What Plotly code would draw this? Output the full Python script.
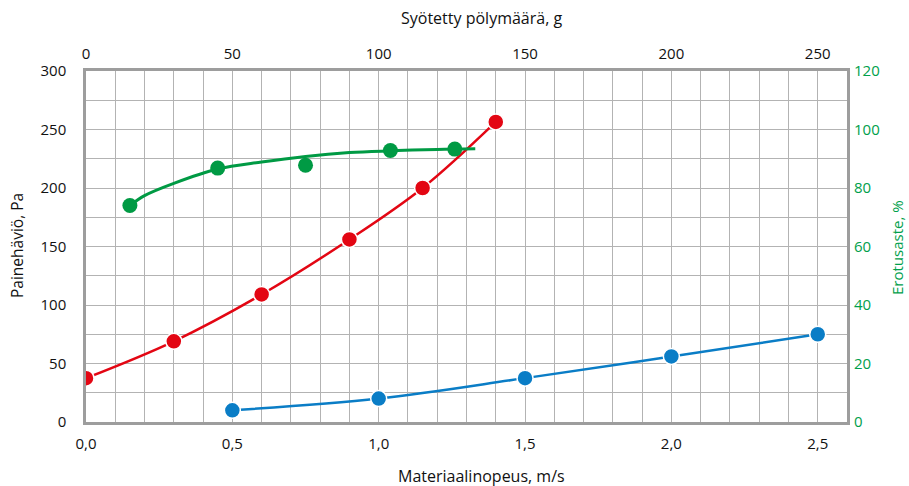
import plotly.graph_objects as go

# Data
red_g = [0, 30, 60, 90, 115, 140]              # Syötetty pölymäärä, g
red_pa = [37.5, 69, 109, 156, 200, 256.5]      # Painehäviö, Pa

green_g = [15, 45, 75, 104, 126]
green_pct = [74.0, 86.8, 87.8, 92.8, 93.3]     # Erotusaste, %

green_trend_g = [15, 20, 30, 45, 60, 75, 90, 104, 120, 133]
green_trend_pct = [74.0, 77.4, 81.6, 86.5, 88.9, 90.8, 92.1, 92.7, 93.2, 93.4]

blue_v = [0.5, 1.0, 1.5, 2.0, 2.5]             # Materiaalinopeus, m/s
blue_pa = [10, 20, 37.5, 56, 75]

RED = "#E30613"
GREEN = "#009A44"
BLUE = "#0A7DC6"
GREEN_TXT = "#00A04B"
FONT = "Open Sans"
TXT = "#111111"

fig = go.Figure()

fig.add_trace(go.Scatter(
    x=green_trend_g, y=green_trend_pct, xaxis="x2", yaxis="y2",
    mode="lines", line=dict(color=GREEN, width=3, shape="spline"),
    showlegend=False, hoverinfo="skip"))
fig.add_trace(go.Scatter(
    x=green_g, y=green_pct, xaxis="x2", yaxis="y2",
    mode="markers", marker=dict(color=GREEN, size=15, line=dict(width=0)),
    showlegend=False))
fig.add_trace(go.Scatter(
    x=red_g, y=red_pa, xaxis="x2", yaxis="y",
    mode="lines+markers", line=dict(color=RED, width=2.5, shape="spline"),
    marker=dict(color=RED, size=16, line=dict(color="white", width=1.5)),
    showlegend=False))
fig.add_trace(go.Scatter(
    x=blue_v, y=blue_pa, xaxis="x", yaxis="y",
    mode="lines+markers", line=dict(color=BLUE, width=2.5, shape="spline"),
    marker=dict(color=BLUE, size=16, line=dict(color="white", width=1.5)),
    showlegend=False))

grid_color = "#b3b3b3"
frame_color = "#9d9d9d"

W_PX, H_PX = 909, 486
pl, pr, pt, pb = 86, 847, 71, 422

fig.update_layout(
    width=W_PX, height=H_PX,
    margin=dict(l=pl, r=W_PX - pr, t=pt, b=H_PX - pb, autoexpand=False),
    paper_bgcolor="white", plot_bgcolor="white",
    separators=", ",
    font=dict(family=FONT, size=15, color=TXT),
    xaxis=dict(
        range=[0, 2.6], dtick=0.5, tickformat=".1f",
        showgrid=True, gridcolor=grid_color, gridwidth=1.3,
        minor=dict(dtick=0.1, showgrid=True, gridcolor=grid_color, gridwidth=1.3),
        zeroline=False, showline=True, linecolor=frame_color, linewidth=2.5,
        mirror=True, ticks="", ticklabelstandoff=6,
        tickfont=dict(family=FONT, size=15, color=TXT)),
    xaxis2=dict(
        range=[0, 260], dtick=50, overlaying="x", side="top",
        showgrid=False, zeroline=False, showline=False, ticks="",
        ticklabelstandoff=8,
        tickfont=dict(family=FONT, size=15, color=TXT)),
    yaxis=dict(
        range=[0, 300], dtick=50,
        showgrid=True, gridcolor=grid_color, gridwidth=1.3,
        minor=dict(dtick=25, showgrid=True, gridcolor=grid_color, gridwidth=1.3),
        zeroline=False, showline=True, linecolor=frame_color, linewidth=2.5,
        mirror=True, ticks="", ticklabelstandoff=14,
        tickfont=dict(family=FONT, size=15, color=TXT)),
    yaxis2=dict(
        range=[0, 120], dtick=20, overlaying="y", side="right",
        showgrid=False, zeroline=False, showline=False, ticks="",
        ticklabelstandoff=6,
        tickfont=dict(family=FONT, size=15, color=GREEN_TXT)),
)

W, H = pr - pl, pb - pt


def px_ann(text, px_x, px_y, color=TXT, angle=0, size=15):
    fig.add_annotation(text=text, textangle=angle, showarrow=False,
                       font=dict(family=FONT, size=size, color=color),
                       xref="paper", yref="paper",
                       x=(px_x - pl) / W, y=(pb - px_y) / H,
                       xanchor="center", yanchor="middle")


px_ann("Syötetty pölymäärä, g", 481, 18, size=16)
px_ann("Materiaalinopeus, m/s", 481, 476, size=16)
px_ann("Painehäviö, Pa", 17, 246, angle=-90, size=15.5)
px_ann("Erotusaste, %", 897, 248, color=GREEN_TXT, angle=-90, size=15)

fig.write_html("out.html", config={"displayModeBar": False},
               post_script="document.body.style.margin='0';document.body.style.overflow='hidden';")
